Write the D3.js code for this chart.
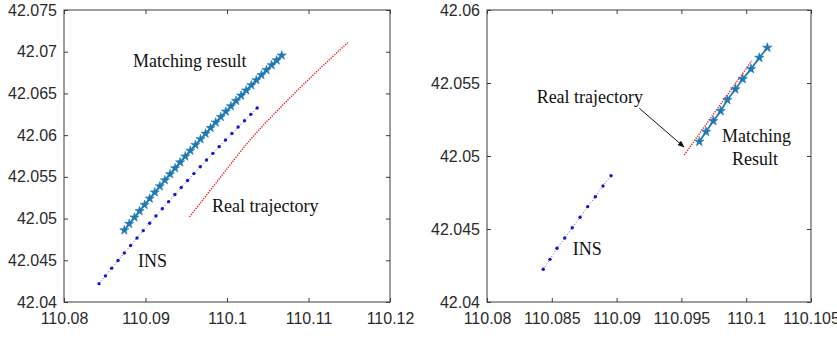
<!DOCTYPE html>
<html>
<head>
<meta charset="utf-8">
<script src="https://cdn.jsdelivr.net/npm/d3@7"></script>
<style>
  html, body { margin: 0; padding: 0; background: #fff; }
  svg { display: block; }
  .tick text { font-family: "Liberation Sans", Arial, sans-serif; font-size: 16px; fill: #2a2a2a; }
  .note { font-family: "Liberation Serif", "Times New Roman", serif; font-size: 18px; fill: #111; }
</style>
</head>
<body>
<div id="chart"></div>
<script>
// Panel kiri
const leftXTicks = [110.08, 110.09, 110.1, 110.11, 110.12];
const leftYTicks = [42.04, 42.045, 42.05, 42.055, 42.06, 42.065, 42.07, 42.075];

const leftMatchX = [110.0874, 110.0880, 110.08865, 110.08927, 110.08989, 110.09052, 110.09114, 110.09176,
  110.09238, 110.09301, 110.09363, 110.09425, 110.09488, 110.09550, 110.09612, 110.09675,
  110.09737, 110.09799, 110.09861, 110.09924, 110.09986, 110.10048, 110.10111, 110.10173,
  110.10235, 110.10298, 110.10360, 110.10422, 110.10484, 110.10547, 110.10609, 110.10671];
const leftMatchY = [42.0486, 42.04937, 42.05014, 42.05090, 42.05165, 42.05240, 42.05314, 42.05387,
  42.05460, 42.05532, 42.05604, 42.05674, 42.05745, 42.05814, 42.05883, 42.05951,
  42.06019, 42.06086, 42.06152, 42.06218, 42.06283, 42.06347, 42.06411, 42.06474,
  42.06536, 42.06598, 42.06659, 42.06720, 42.06780, 42.06839, 42.06897, 42.06955];

const leftInsX = [110.0843, 110.08508, 110.08585, 110.08663, 110.08740, 110.08818, 110.08896, 110.08973,
  110.09051, 110.09128, 110.09206, 110.09284, 110.09361, 110.09439, 110.09516, 110.09594,
  110.09672, 110.09749, 110.09827, 110.09904, 110.09982, 110.10060, 110.10137, 110.10215,
  110.10292, 110.10370];
const leftInsY = [42.0422, 42.04313, 42.04406, 42.04497, 42.04588, 42.04678, 42.04768, 42.04856,
  42.04944, 42.05031, 42.05118, 42.05203, 42.05288, 42.05372, 42.05456, 42.05539,
  42.05621, 42.05702, 42.05782, 42.05862, 42.05941, 42.06019, 42.06097, 42.06173,
  42.06249, 42.06325];

const leftRealX = [110.0954, 110.09914, 110.10282, 110.1065, 110.11481];
const leftRealY = [42.0502, 42.05487, 42.05942, 42.06326, 42.07109];

// Panel kanan
const rightXTicks = [110.08, 110.085, 110.09, 110.095, 110.1, 110.105];
const rightYTicks = [42.04, 42.045, 42.05, 42.055, 42.06];

const rightMatchX = [110.09638, 110.09690, 110.09746, 110.09803, 110.09854, 110.09916, 110.09973, 110.10037, 110.10101, 110.10163];
const rightMatchY = [42.05098, 42.05166, 42.05240, 42.05308, 42.05384, 42.05457, 42.05527, 42.05596, 42.05673, 42.05742];

const rightInsX = [110.08434, 110.08486, 110.08540, 110.08600, 110.08658, 110.08718, 110.08777, 110.08836, 110.08895, 110.08957];
const rightInsY = [42.04224, 42.04292, 42.04368, 42.04438, 42.04509, 42.04580, 42.04653, 42.04721, 42.04795, 42.04865];

const rightRealX = [110.09522, 110.09782, 110.10042];
const rightRealY = [42.05007, 42.05329, 42.05651];

// Teks keterangan (koordinat data, seperti text() di MATLAB)
const leftNotes = [
  { text: "Matching result", x: 110.08847, y: 42.06818 },
  { text: "Real trajectory", x: 110.09816, y: 42.05079 },
  { text: "INS", x: 110.08908, y: 42.0442 }
];
const rightNotes = [
  { text: "Real trajectory", x: 110.08383, y: 42.05363 },
  { text: "Matching", x: 110.09813, y: 42.05096 },
  { text: "Result", x: 110.0989, y: 42.04938 },
  { text: "INS", x: 110.08661, y: 42.04322 }
];
const rightArrow = { x1: 110.09175, y1: 42.05327, x2: 110.09520, y2: 42.05062 };

const COLORS = { match: "#1f78b4", ins: "#1414d2", real: "#e8262a", axis: "#3c3c3c" };

const svg = d3.select("#chart").append("svg")
  .attr("width", 837)
  .attr("height", 340);

svg.append("defs").append("marker")
  .attr("id", "arrowhead")
  .attr("viewBox", "0 0 10 10")
  .attr("refX", 9).attr("refY", 5)
  .attr("markerWidth", 7).attr("markerHeight", 7)
  .attr("orient", "auto")
  .append("path")
  .attr("d", "M0,1 L10,5 L0,9 Z")
  .attr("fill", "#111");

function zip(xs, ys) {
  return xs.map((x, i) => ({ x: x, y: ys[i] }));
}

function drawPanel(opt) {
  const g = svg.append("g").attr("transform", `translate(${opt.left},${opt.top})`);
  const w = opt.width, h = opt.height;

  const x = d3.scaleLinear().domain(opt.xDomain).range([0, w]);
  const y = d3.scaleLinear().domain(opt.yDomain).range([h, 0]);
  const fmt = d => String(+d.toFixed(4));

  // Sumbu bawah & kiri (dengan label), atas & kanan (hanya tick)
  const axes = [
    { a: d3.axisBottom(x).tickValues(opt.xTicks).tickFormat(fmt).tickSize(-4).tickPadding(11), t: `translate(0,${h})` },
    { a: d3.axisLeft(y).tickValues(opt.yTicks).tickFormat(fmt).tickSize(-4).tickPadding(7), t: null },
    { a: d3.axisTop(x).tickValues(opt.xTicks).tickFormat("").tickSize(-4), t: null },
    { a: d3.axisRight(y).tickValues(opt.yTicks).tickFormat("").tickSize(-4), t: `translate(${w},0)` }
  ];
  axes.forEach(ax => {
    const s = g.append("g").attr("class", "axis");
    if (ax.t) s.attr("transform", ax.t);
    s.call(ax.a);
    s.select(".domain").remove();
    s.selectAll(".tick line").attr("stroke", COLORS.axis);
  });

  g.append("rect")
    .attr("x", 0).attr("y", 0)
    .attr("width", w).attr("height", h)
    .attr("fill", "none")
    .attr("stroke", COLORS.axis)
    .attr("stroke-width", 1);

  const line = d3.line().x(d => x(d.x)).y(d => y(d.y));
  const smooth = d3.line().x(d => x(d.x)).y(d => y(d.y)).curve(d3.curveMonotoneX);

  // Real trajectory (garis titik-titik merah)
  g.append("path")
    .datum(zip(opt.realX, opt.realY))
    .attr("d", smooth)
    .attr("fill", "none")
    .attr("stroke", COLORS.real)
    .attr("stroke-width", 1.5)
    .attr("stroke-dasharray", "1.3,1.2");

  // INS
  const ins = zip(opt.insX, opt.insY);
  g.append("path")
    .datum(ins)
    .attr("d", line)
    .attr("fill", "none")
    .attr("stroke", COLORS.ins)
    .attr("stroke-opacity", 0.7)
    .attr("stroke-width", 1)
    .attr("stroke-dasharray", "1,2");
  g.selectAll(".ins-dot")
    .data(ins)
    .enter()
    .append("circle")
    .attr("class", "ins-dot")
    .attr("cx", d => x(d.x))
    .attr("cy", d => y(d.y))
    .attr("r", 1.7)
    .attr("fill", COLORS.ins);

  // Matching result
  const match = zip(opt.matchX, opt.matchY);
  g.append("path")
    .datum(match)
    .attr("d", line)
    .attr("fill", "none")
    .attr("stroke", COLORS.match)
    .attr("stroke-width", 1.8);
  const star = d3.symbol(d3.symbolStar).size(opt.starSize);
  g.selectAll(".star")
    .data(match)
    .enter()
    .append("path")
    .attr("class", "star")
    .attr("transform", d => `translate(${x(d.x)},${y(d.y)})`)
    .attr("d", star)
    .attr("fill", COLORS.match)
    .attr("stroke", COLORS.match)
    .attr("stroke-width", 0.6);

  if (opt.arrow) {
    g.append("line")
      .attr("x1", x(opt.arrow.x1)).attr("y1", y(opt.arrow.y1))
      .attr("x2", x(opt.arrow.x2)).attr("y2", y(opt.arrow.y2))
      .attr("stroke", "#111")
      .attr("stroke-width", 1)
      .attr("marker-end", "url(#arrowhead)");
  }

  g.selectAll(".note")
    .data(opt.notes)
    .enter()
    .append("text")
    .attr("class", "note")
    .attr("x", d => x(d.x))
    .attr("y", d => y(d.y))
    .text(d => d.text);
}

drawPanel({
  left: 64, top: 10, width: 326, height: 292,
  xDomain: [110.08, 110.12], yDomain: [42.04, 42.075],
  xTicks: leftXTicks, yTicks: leftYTicks,
  matchX: leftMatchX, matchY: leftMatchY,
  insX: leftInsX, insY: leftInsY,
  realX: leftRealX, realY: leftRealY,
  notes: leftNotes, starSize: 26
});

drawPanel({
  left: 487, top: 10, width: 324, height: 292,
  xDomain: [110.08, 110.105], yDomain: [42.04, 42.06],
  xTicks: rightXTicks, yTicks: rightYTicks,
  matchX: rightMatchX, matchY: rightMatchY,
  insX: rightInsX, insY: rightInsY,
  realX: rightRealX, realY: rightRealY,
  notes: rightNotes, arrow: rightArrow, starSize: 28
});
</script>
</body>
</html>
